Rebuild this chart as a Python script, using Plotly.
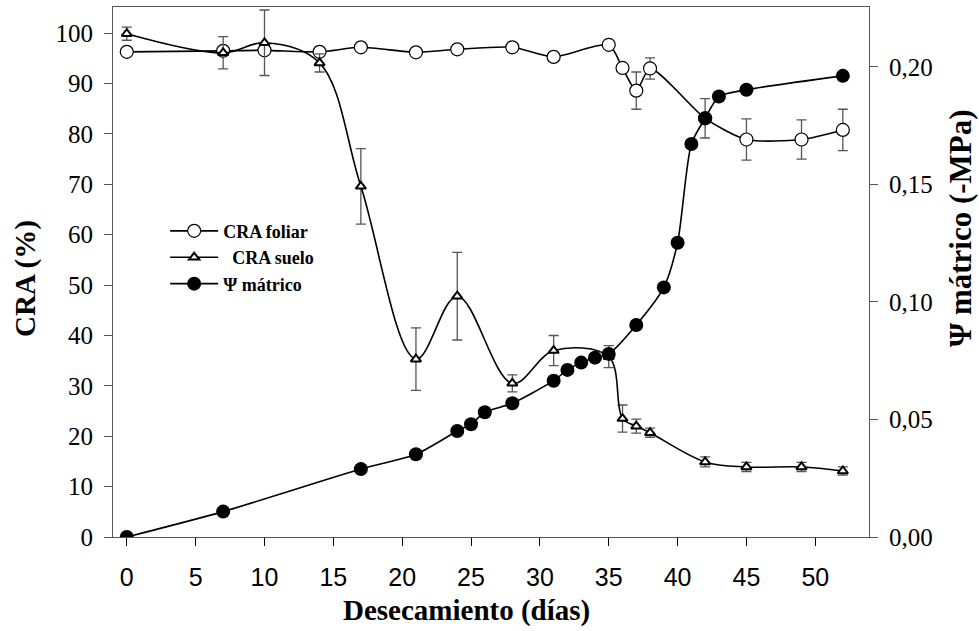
import plotly.graph_objects as go

# Days of desiccation
dias = [0, 7, 10, 14, 17, 21, 24, 28, 31, 35, 36, 37, 38, 42, 45, 49, 52]

# Leaf relative water content (%) and its error
cra_foliar = [96.3, 96.5, 96.6, 96.3, 97.2, 96.2, 96.8, 97.2, 95.3, 97.7, 93.1, 88.6, 93.0, 83.1, 78.9, 78.9, 80.8]
err_foliar = [0, 0, 0, 0, 0, 0, 0, 0, 0, 0, 0, 3.7, 2.1, 3.9, 4.1, 3.9, 4.1]

# Soil relative water content (%) and its error
cra_suelo = [99.9, 96.1, 98.1, 94.1, 69.6, 35.3, 47.8, 30.5, 37.0, 35.8, 23.5, 22.0, 20.7, 14.9, 13.9, 13.9, 13.1]
err_suelo = [1.3, 3.2, 6.5, 1.8, 7.5, 6.2, 8.7, 1.7, 3.0, 2.2, 2.7, 1.4, 0.9, 1.0, 0.9, 0.9, 0.8]

# Matric potential (-MPa)
dias_psi = [0, 7, 17, 21, 24, 25, 26, 28, 31, 32, 33, 34, 35, 37, 39, 40, 41, 42, 43, 45, 52]
psi_matrico = [0.0, 0.0108, 0.0289, 0.0352, 0.0451, 0.0480, 0.0531, 0.0569, 0.0665, 0.0711,
               0.0742, 0.0763, 0.0779, 0.0902, 0.1062, 0.1252, 0.1672, 0.1782, 0.1874, 0.1903, 0.1962]

x_ticks = [0, 5, 10, 15, 20, 25, 30, 35, 40, 45, 50]
y_ticks = [0, 10, 20, 30, 40, 50, 60, 70, 80, 90, 100]
y2_ticks = [0.0, 0.05, 0.10, 0.15, 0.20]

SERIF = "Liberation Serif"
SANS = "Liberation Sans"
AX = "#555555"
ERR = "#555555"

fig = go.Figure()

fig.add_trace(go.Scatter(
    x=dias, y=cra_foliar, name="<b>CRA foliar</b>", mode="lines+markers",
    line=dict(color="black", width=1.6, shape="spline", smoothing=0.7),
    marker=dict(symbol="circle", size=13, color="white", line=dict(color="black", width=1.2)),
    error_y=dict(type="data", array=err_foliar, visible=True, color=ERR, thickness=1.3, width=5),
))

fig.add_trace(go.Scatter(
    x=dias, y=cra_suelo, name="<b>\u00a0\u00a0CRA suelo</b>", mode="lines+markers",
    line=dict(color="black", width=1.6, shape="spline", smoothing=1.0),
    marker=dict(symbol="triangle-up", size=9, color="white", line=dict(color="black", width=2)),
    error_y=dict(type="data", array=err_suelo, visible=True, color=ERR, thickness=1.3, width=5),
))

fig.add_trace(go.Scatter(
    x=dias_psi, y=psi_matrico, name="<b>\u03a8 mátrico</b>", mode="lines+markers", yaxis="y2",
    line=dict(color="black", width=1.6, shape="spline", smoothing=0.7),
    marker=dict(symbol="circle", size=14, color="black", line=dict(color="black", width=0)),
))

title_font = dict(family=SERIF, size=29, color="black")

fig.update_layout(
    width=979, height=631,
    margin=dict(l=113, r=110, t=7, b=94),
    paper_bgcolor="white", plot_bgcolor="white",
    separators=",.",
    showlegend=True,
    legend=dict(
        x=0.069, y=0.612, xanchor="left", yanchor="top",
        bgcolor="rgba(0,0,0,0)", borderwidth=0,
        font=dict(family=SERIF, size=18, color="black"),
        itemwidth=48, tracegroupgap=0,
    ),
    xaxis=dict(
        range=[-1, 53.9], tickvals=x_ticks, ticks="outside", ticklen=8, tickcolor="black",
        showline=True, linecolor=AX, linewidth=1, mirror=True,
        showgrid=False, zeroline=False,
        tickfont=dict(family=SANS, size=25, color="black"),
        ticklabelstandoff=10,
    ),
    yaxis=dict(
        range=[0, 105.2], tickvals=y_ticks, ticks="outside", ticklen=8, tickcolor=AX,
        showline=True, linecolor=AX, linewidth=1,
        showgrid=False, zeroline=False,
        tickfont=dict(family=SERIF, size=25, color="black"),
        ticklabelstandoff=6,
    ),
    yaxis2=dict(
        range=[0, 0.2255], tickvals=y2_ticks, tickformat=".2f", ticks="outside", ticklen=8,
        tickcolor=AX, overlaying="y", side="right",
        showline=True, linecolor=AX, linewidth=1,
        showgrid=False, zeroline=False,
        tickfont=dict(family=SERIF, size=25, color="black"),
        ticklabelstandoff=6,
    ),
    annotations=[
        dict(text="<b>Desecamiento (días)</b>", xref="paper", yref="paper",
             x=0.468, y=-0.1396, xanchor="center", yanchor="middle",
             showarrow=False, font=title_font),
        dict(text="<b>CRA (%)</b>", xref="paper", yref="paper", textangle=-90,
             x=-0.115, y=0.487, xanchor="center", yanchor="middle",
             showarrow=False, font=title_font),
        dict(text="<b>\u03a8 mátrico (-MPa)</b>", xref="paper", yref="paper", textangle=-90,
             x=1.1204, y=0.583, xanchor="center", yanchor="middle",
             showarrow=False, font=dict(family=SERIF, size=31, color="black")),
    ],
)

fig.write_html("out.html")
